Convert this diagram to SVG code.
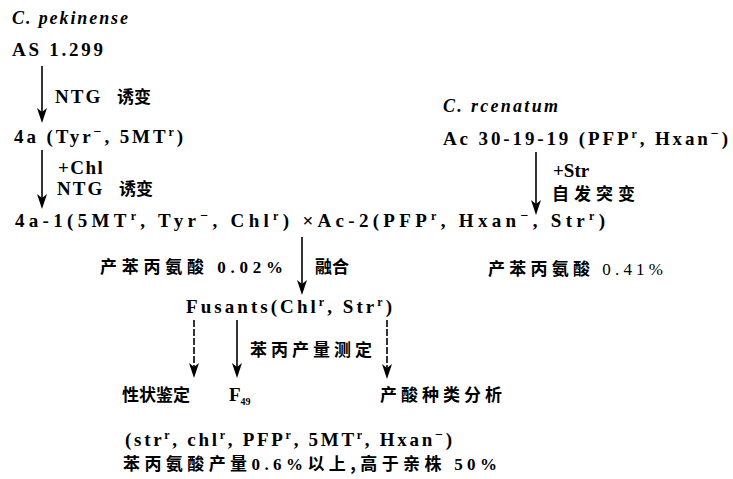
<svg xmlns="http://www.w3.org/2000/svg" width="733" height="479" viewBox="0 0 733 479">
<style>
text{font-family:"Liberation Serif","Noto Sans CJK SC",serif;font-weight:bold;font-size:19px;fill:#000}
.it{font-style:italic;font-weight:bold;font-size:18px}
.cj{font-family:"Noto Sans CJK SC",sans-serif;font-weight:bold;font-size:17px}
.sp{font-size:12px}
.mi{font-size:14px}
.ln{stroke:#000;stroke-width:1.6;fill:none}
.dash{stroke-dasharray:7 2}
</style>
<rect width="733" height="479" fill="#fff"/>
<g id="connectors">
<line class="ln" x1="42" y1="66" x2="42" y2="112"/>
<line class="ln" x1="42" y1="150" x2="42" y2="198"/>
<line class="ln" x1="536" y1="152" x2="536" y2="204"/>
<line class="ln" x1="302" y1="237" x2="302" y2="284"/>
<line class="ln dash" x1="194" y1="320" x2="194" y2="367"/>
<line class="ln" x1="237" y1="320" x2="237" y2="367"/>
<line class="ln dash" x1="387" y1="320" x2="387" y2="368"/>
<g fill="#000">
<path d="M37,108 L42,112 L47,108 L42,123 Z"/>
<path d="M37,194 L42,198 L47,194 L42,209 Z"/>
<path d="M531,200 L536,204 L541,200 L536,215 Z"/>
<path d="M297,280 L302,284 L307,280 L302,295 Z"/>
<path d="M189,363 L194,367 L199,363 L194,378 Z"/>
<path d="M232,363 L237,367 L242,363 L237,378 Z"/>
<path d="M382,364 L387,368 L392,364 L387,379 Z"/>
</g>
</g>
<g id="pekinense">
<text class="it" x="12" y="24" textLength="116" lengthAdjust="spacing">C.  pekinense</text>
<text x="12" y="56" textLength="91" lengthAdjust="spacing">AS 1.299</text>
</g>
<g id="label-ntg1">
<text x="55" y="103" letter-spacing="2">NTG <tspan class="cj" dx="8" letter-spacing="0">诱变</tspan></text>
</g>
<g id="node-4a">
<text x="14" y="143" textLength="169" lengthAdjust="spacing">4a (Tyr<tspan dy="-7" class="mi">−</tspan><tspan dy="7">, 5MT</tspan><tspan dy="-7" class="sp">r</tspan><tspan dy="7">)</tspan></text>
</g>
<g id="label-chl">
<text x="58" y="174" letter-spacing="1.5">+Chl</text>
<text x="57" y="195" letter-spacing="2">NTG <tspan class="cj" dx="8" letter-spacing="0">诱变</tspan></text>
</g>
<g id="node-4a1">
<text x="15" y="227" textLength="590" lengthAdjust="spacing">4a-1(5MT<tspan dy="-7" class="sp">r</tspan><tspan dy="7">, Tyr</tspan><tspan dy="-7" class="mi">−</tspan><tspan dy="7">, Chl</tspan><tspan dy="-7" class="sp">r</tspan><tspan dy="7">) ×Ac-2(PFP</tspan><tspan dy="-7" class="sp">r</tspan><tspan dy="7">, Hxan</tspan><tspan dy="-7" class="mi">−</tspan><tspan dy="7">, Str</tspan><tspan dy="-7" class="sp">r</tspan><tspan dy="7">)</tspan></text>
</g>
<g id="rcenatum">
<text class="it" x="443" y="112" textLength="115" lengthAdjust="spacing">C.  rcenatum</text>
<text x="443" y="145" textLength="285" lengthAdjust="spacing">Ac 30-19-19 (PFP<tspan dy="-7" class="sp">r</tspan><tspan dy="7">, Hxan</tspan><tspan dy="-7" class="mi">−</tspan><tspan dy="7">)</tspan></text>
</g>
<g id="label-str">
<text x="553" y="177" font-weight="normal" font-size="17">+Str</text>
<text class="cj" x="552" y="200" textLength="83" lengthAdjust="spacing">自发突变</text>
</g>
<g id="yield-041">
<text class="cj" x="488" y="275" textLength="175" lengthAdjust="spacing">产苯丙氨酸 <tspan font-family="Liberation Serif" font-weight="normal">0.41%</tspan></text>
</g>
<g id="yield-002">
<text class="cj" x="100" y="273" textLength="183" lengthAdjust="spacing">产苯丙氨酸 <tspan font-family="Liberation Serif">0.02%</tspan></text>
</g>
<g id="label-fusion">
<text class="cj" x="315" y="273">融合</text>
</g>
<g id="node-fusants">
<text x="186" y="313" textLength="206" lengthAdjust="spacing">Fusants(Chl<tspan dy="-7" class="sp">r</tspan><tspan dy="7">, Str</tspan><tspan dy="-7" class="sp">r</tspan><tspan dy="7">)</tspan></text>
</g>
<g id="label-measure">
<text class="cj" x="250" y="356" textLength="122" lengthAdjust="spacing">苯丙产量测定</text>
</g>
<g id="node-trait">
<text class="cj" x="122" y="401" font-size="16">性状鉴定</text>
</g>
<g id="node-f49">
<text x="229" y="401">F<tspan dy="4" font-size="10">49</tspan></text>
</g>
<g id="node-acid">
<text class="cj" x="380" y="401" textLength="122" lengthAdjust="spacing">产酸种类分析</text>
</g>
<g id="result">
<text x="125" y="446" textLength="327" lengthAdjust="spacing">(str<tspan dy="-7" class="sp">r</tspan><tspan dy="7">, chl</tspan><tspan dy="-7" class="sp">r</tspan><tspan dy="7">, PFP</tspan><tspan dy="-7" class="sp">r</tspan><tspan dy="7">, 5MT</tspan><tspan dy="-7" class="sp">r</tspan><tspan dy="7">, Hxan</tspan><tspan dy="-7" class="mi">−</tspan><tspan dy="7">)</tspan></text>
<text class="cj" x="123" y="470" textLength="374" lengthAdjust="spacing">苯丙氨酸产量<tspan font-family="Liberation Serif">0.6%</tspan>以上,高于亲株 <tspan font-family="Liberation Serif">50%</tspan></text>
</g>
</svg>
